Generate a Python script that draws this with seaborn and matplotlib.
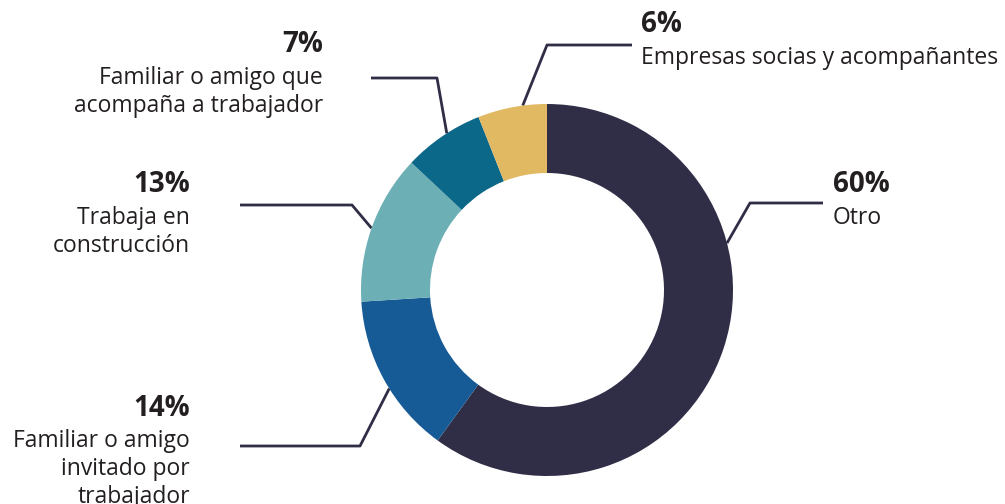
import matplotlib
matplotlib.use("Agg")
import matplotlib.pyplot as plt
import seaborn as sns
import numpy as np

# Data
labels = ["Otro", "Familiar o amigo\ninvitado por\ntrabajador", "Trabaja en\nconstrucción",
          "Familiar o amigo que\nacompaña a trabajador", "Empresas socias y acompañantes"]
values = [60, 14, 13, 7, 6]
pct_labels = ["60%", "14%", "13%", "7%", "6%"]
colors = ["#302e47", "#165a96", "#6cafb5", "#0c6888", "#e0b962"]

sns.set_theme(style="white")
plt.rcParams['font.family'] = ['Open Sans', 'DejaVu Sans']

W, H = 1005, 504
fig = plt.figure(figsize=(W / 100, H / 100), dpi=100)
ax = fig.add_axes([0, 0, 1, 1])

cx, cy = 547, H - 290
R = 186
wedges, _ = ax.pie(values, colors=colors, startangle=90, counterclock=False,
                   center=(cx, cy), radius=R, frame=True,
                   wedgeprops=dict(width=69, linewidth=0))
ax.set_xlim(0, W)
ax.set_ylim(0, H)
ax.set_aspect("equal")
ax.axis("off")

txt = "#231f20"
line_c = "#302e47"

# layout: (anchor angle in deg, elbow point, line end, text x, pct center y, ha)
layout = [
    (14.6, (750, 203), (823, 203), 833, 185, "left"),
    (212.0, (360, 446), (240, 446), 190, 408, "right"),
    (160.6, (352, 205), (240, 205), 190, 185, "right"),
    (122.6, (437, 78), (371, 78), 323, 45, "right"),
    (97.5, (547, 45), (632, 45), 641, 25, "left"),
]

for w, (ang, elbow, end, tx, ty, ha), pl, lab in zip(wedges, layout, pct_labels, labels):
    a = np.deg2rad(ang)
    px, py = cx + R * np.cos(a), cy + R * np.sin(a)
    ex, ey = elbow[0], H - elbow[1]
    fx, fy = end[0], H - end[1]
    ax.plot([px, ex, fx], [py, ey, fy], color=line_c, lw=2, solid_capstyle="butt", zorder=0)
    ax.text(tx, H - ty, pl, ha=ha, va="center", fontsize=20, fontweight="bold", color=txt)
    for i, line in enumerate(lab.split("\n")):
        ax.text(tx, H - (ty + 30 + 28 * i), line, ha=ha, va="center_baseline",
                fontsize=16.5, color=txt)

fig.savefig("out.png", dpi=100, facecolor="white")
